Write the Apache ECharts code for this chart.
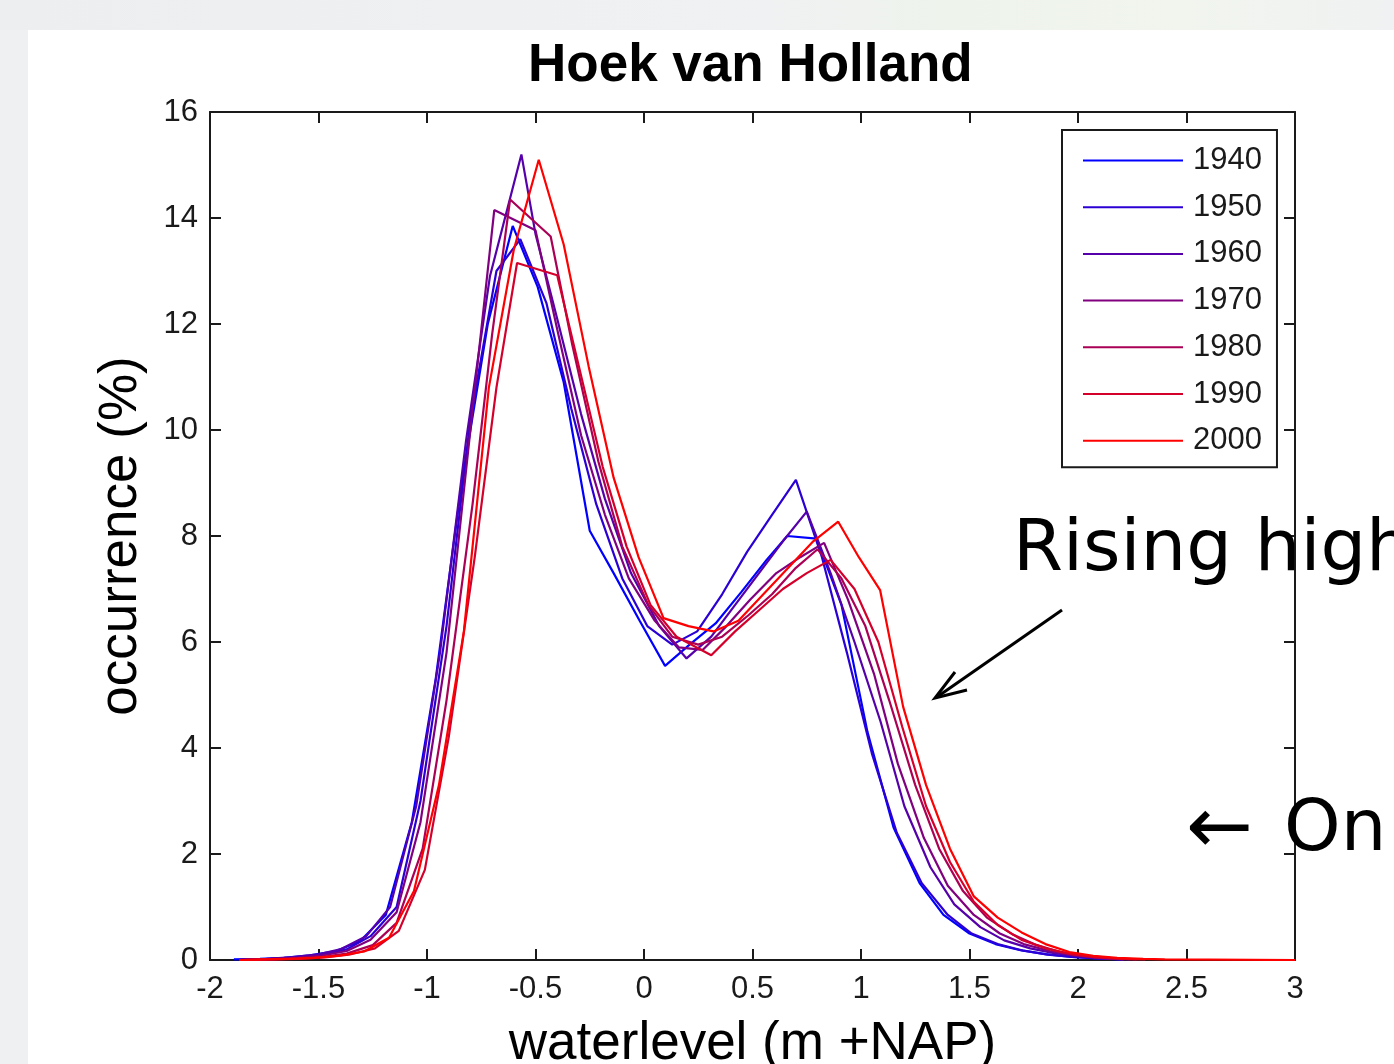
<!DOCTYPE html>
<html>
<head>
<meta charset="utf-8">
<script src="https://cdn.jsdelivr.net/npm/echarts@6/dist/echarts.min.js"></script>
<style>
  html, body { margin: 0; padding: 0; width: 1394px; height: 1064px; overflow: hidden; background: #eef0f2; }
  #topband { position: absolute; left: 0; top: 0; width: 1394px; height: 30px;
    background: linear-gradient(90deg, #eceef0 0%, #f0f1f2 55%, #eef3ec 68%, #f1f5ee 85%, #f0f1f2 100%); }
  #panel { position: absolute; left: 28px; top: 30px; width: 1366px; height: 1034px; background: #fff; }
  #chart { position: absolute; left: 0; top: 0; width: 1394px; height: 1064px; }
</style>
</head>
<body>
<div id="topband"></div>
<div id="panel"></div>
<div id="chart"></div>
<script>
// waterlevel histograms, [waterlevel (m +NAP), occurrence (%)]
const years = ['1940', '1950', '1960', '1970', '1980', '1990', '2000'];

const s1940 = [[-1.89,0.01],[-1.77,0.02],[-1.66,0.04],[-1.54,0.09],[-1.42,0.17],[-1.31,0.35],[-1.19,0.85],[-1.07,2.6],[-0.96,5.3],[-0.84,9.0],[-0.72,12.0],[-0.605,13.85],[-0.49,12.7],[-0.37,10.9],[-0.25,8.1],[-0.14,7.3],[-0.02,6.4],[0.097,5.55],[0.21,5.95],[0.33,6.35],[0.45,6.95],[0.565,7.55],[0.66,8.0],[0.795,7.95],[0.91,6.7],[1.03,4.3],[1.15,2.5],[1.27,1.45],[1.38,0.85],[1.50,0.5],[1.62,0.3],[1.74,0.18],[1.85,0.11],[1.97,0.06],[2.09,0.03],[2.20,0.01]];

const s1950 = [[-1.84,0.01],[-1.72,0.02],[-1.60,0.05],[-1.49,0.1],[-1.37,0.2],[-1.26,0.45],[-1.14,1.0],[-1.03,3.0],[-0.91,6.3],[-0.80,10.2],[-0.68,13.0],[-0.57,13.6],[-0.45,12.4],[-0.335,10.4],[-0.22,8.6],[-0.10,7.2],[0.015,6.3],[0.13,5.95],[0.245,6.2],[0.36,6.9],[0.475,7.7],[0.59,8.4],[0.70,9.06],[0.82,7.6],[0.935,5.8],[1.05,3.9],[1.165,2.4],[1.28,1.45],[1.40,0.85],[1.51,0.5],[1.63,0.3],[1.745,0.18],[1.86,0.1],[1.975,0.06],[2.09,0.03],[2.21,0.01]];

const s1960 = [[-1.86,0.01],[-1.74,0.02],[-1.63,0.05],[-1.51,0.1],[-1.40,0.2],[-1.28,0.45],[-1.17,1.0],[-1.05,2.9],[-0.94,5.8],[-0.82,9.8],[-0.71,12.9],[-0.565,15.2],[-0.50,13.7],[-0.40,12.1],[-0.29,10.3],[-0.18,8.7],[-0.06,7.3],[0.07,6.3],[0.196,5.69],[0.31,6.1],[0.42,6.7],[0.53,7.3],[0.64,7.9],[0.75,8.46],[0.86,7.3],[0.97,6.0],[1.09,4.5],[1.20,2.9],[1.32,1.75],[1.43,1.05],[1.55,0.62],[1.66,0.37],[1.78,0.22],[1.89,0.13],[2.01,0.07],[2.12,0.03],[2.24,0.01]];

const s1970 = [[-1.84,0.01],[-1.72,0.02],[-1.60,0.04],[-1.49,0.08],[-1.37,0.17],[-1.26,0.38],[-1.14,0.9],[-1.03,2.6],[-0.91,5.8],[-0.80,10.0],[-0.69,14.15],[-0.50,13.77],[-0.40,11.9],[-0.29,9.9],[-0.18,8.4],[-0.07,7.2],[0.05,6.4],[0.16,5.9],[0.27,5.85],[0.38,6.3],[0.49,6.8],[0.61,7.3],[0.72,7.6],[0.83,7.87],[0.94,6.8],[1.06,5.4],[1.17,3.7],[1.29,2.3],[1.40,1.4],[1.52,0.85],[1.64,0.5],[1.75,0.3],[1.87,0.17],[1.98,0.09],[2.10,0.04],[2.21,0.01]];

const s1980 = [[-1.83,0.0],[-1.71,0.01],[-1.60,0.03],[-1.48,0.06],[-1.37,0.12],[-1.25,0.28],[-1.14,0.7],[-1.02,2.1],[-0.91,4.9],[-0.79,8.6],[-0.70,11.8],[-0.617,14.35],[-0.43,13.65],[-0.33,11.6],[-0.21,9.4],[-0.10,7.8],[0.02,6.7],[0.13,6.1],[0.25,5.95],[0.36,6.1],[0.48,6.5],[0.59,6.9],[0.70,7.4],[0.80,7.75],[0.91,7.2],[1.02,6.3],[1.13,4.9],[1.25,3.3],[1.36,2.1],[1.47,1.3],[1.58,0.8],[1.70,0.48],[1.81,0.28],[1.92,0.15],[2.04,0.08],[2.15,0.04],[2.27,0.01]];

const s1990 = [[-1.82,0.0],[-1.70,0.01],[-1.59,0.02],[-1.47,0.05],[-1.36,0.1],[-1.24,0.22],[-1.13,0.55],[-1.01,1.7],[-0.90,4.2],[-0.78,7.6],[-0.68,10.8],[-0.585,13.15],[-0.40,12.92],[-0.30,11.2],[-0.19,9.3],[-0.08,7.8],[0.03,6.7],[0.15,6.1],[0.31,5.75],[0.42,6.2],[0.53,6.6],[0.64,7.0],[0.75,7.3],[0.86,7.55],[0.97,7.0],[1.08,6.0],[1.19,4.4],[1.30,2.9],[1.41,1.85],[1.52,1.1],[1.63,0.66],[1.74,0.38],[1.86,0.21],[1.97,0.11],[2.08,0.05],[2.20,0.02],[2.31,0.01]];

const s2000 = [[-1.865,0.0],[-1.75,0.01],[-1.635,0.02],[-1.52,0.04],[-1.405,0.08],[-1.29,0.16],[-1.175,0.42],[-1.06,1.3],[-0.945,3.3],[-0.83,6.2],[-0.715,10.8],[-0.60,13.4],[-0.485,15.1],[-0.37,13.5],[-0.255,11.2],[-0.14,9.1],[-0.025,7.6],[0.09,6.45],[0.205,6.3],[0.32,6.2],[0.435,6.4],[0.55,6.9],[0.665,7.4],[0.78,7.9],[0.895,8.27],[0.99,7.6],[1.088,6.98],[1.194,4.78],[1.30,3.3],[1.41,2.1],[1.52,1.2],[1.63,0.8],[1.74,0.52],[1.85,0.3],[1.96,0.15],[2.07,0.08],[2.18,0.04],[2.30,0.02],[2.40,0.01],[3.0,0.0]];

const allSeries = [s1940, s1950, s1960, s1970, s1980, s1990, s2000];

// blue -> red, like the MATLAB colour ramp
const colors = ['#0000ff', '#2b00d4', '#5500aa', '#800080', '#aa0055', '#d4002b', '#ff0000'];

const chart = echarts.init(document.getElementById('chart'), null, { renderer: 'canvas' });

const font = 'Liberation Sans, Arial, sans-serif';
const tickFont = { fontFamily: font, fontSize: 31, color: '#1a1a1a' };
const axisLine = { onZero: false, lineStyle: { color: '#1a1a1a', width: 2 } };
const tickIn = { inside: true, length: 11, lineStyle: { color: '#1a1a1a', width: 2 } };

const option = {
  backgroundColor: 'transparent',
  animation: false,
  title: {
    text: 'Hoek van Holland',
    left: 528,
    top: 40,
    padding: 0,
    textStyle: { fontFamily: font, fontWeight: 'bold', fontSize: 53, color: '#000' }
  },
  grid: { left: 210, right: 99, top: 112, bottom: 104, containLabel: false, outerBoundsMode: 'none' },
  legend: {
    orient: 'vertical',
    left: 1062,
    top: 130,
    padding: [15, 15, 11, 20],
    itemWidth: 100,
    itemHeight: 20,
    itemGap: 15.7,
    borderColor: '#1a1a1a',
    borderWidth: 2,
    backgroundColor: '#fff',
    data: years,
    itemStyle: { opacity: 0 },
    textStyle: { fontFamily: font, fontSize: 31, lineHeight: 31, color: '#1a1a1a', padding: [0, 0, 0, 5] }
  },
  xAxis: [
    {
      type: 'value', min: -2, max: 3, interval: 0.5, position: 'bottom',
      axisLine: axisLine, axisTick: tickIn, splitLine: { show: false },
      axisLabel: Object.assign({ margin: 14 }, tickFont),
      name: 'waterlevel (m +NAP)', nameLocation: 'middle', nameGap: 58,
      nameTextStyle: { fontFamily: font, fontSize: 53, color: '#000' }
    },
    {
      type: 'value', min: -2, max: 3, interval: 0.5, position: 'top',
      axisLine: axisLine, axisTick: tickIn, splitLine: { show: false },
      axisLabel: { show: false }
    }
  ],
  yAxis: [
    {
      type: 'value', min: 0, max: 16, interval: 2, position: 'left',
      axisLine: axisLine, axisTick: tickIn, splitLine: { show: false },
      axisLabel: Object.assign({ margin: 12 }, tickFont),
      name: 'occurrence (%)', nameLocation: 'middle', nameGap: 62, nameRotate: 90,
      nameTextStyle: { fontFamily: font, fontSize: 53, color: '#000' }
    },
    {
      type: 'value', min: 0, max: 16, interval: 2, position: 'right',
      axisLine: axisLine, axisTick: tickIn, splitLine: { show: false },
      axisLabel: { show: false }
    }
  ],
  series: allSeries.map((d, i) => ({
    name: years[i],
    type: 'line',
    data: d,
    symbol: 'none',
    color: colors[i],
    lineStyle: { width: 2.2, color: colors[i] }
  })),
  graphic: [
    {
      type: 'text', x: 1013, y: 515, z: 100,
      style: { text: 'Rising high', font: '72px "DejaVu Sans", Verdana, sans-serif', fill: '#000', verticalAlign: 'top' }
    },
    {
      type: 'line', z: 100,
      shape: { x1: 1062, y1: 610, x2: 937, y2: 697 },
      style: { stroke: '#000', lineWidth: 3 }
    },
    {
      type: 'polyline', z: 100,
      shape: { points: [[955, 672], [935, 698], [967, 690]] },
      style: { stroke: '#000', lineWidth: 3, fill: null }
    },
    {
      type: 'text', x: 1186, y: 792, z: 100,
      style: { text: '\u2190', font: '80px "DejaVu Sans", Verdana, sans-serif', fill: '#000', verticalAlign: 'top' }
    },
    {
      type: 'text', x: 1284, y: 795, z: 100,
      style: { text: 'On', font: '72px "DejaVu Sans", Verdana, sans-serif', fill: '#000', verticalAlign: 'top' }
    }
  ]
};

chart.setOption(option);
</script>
</body>
</html>
